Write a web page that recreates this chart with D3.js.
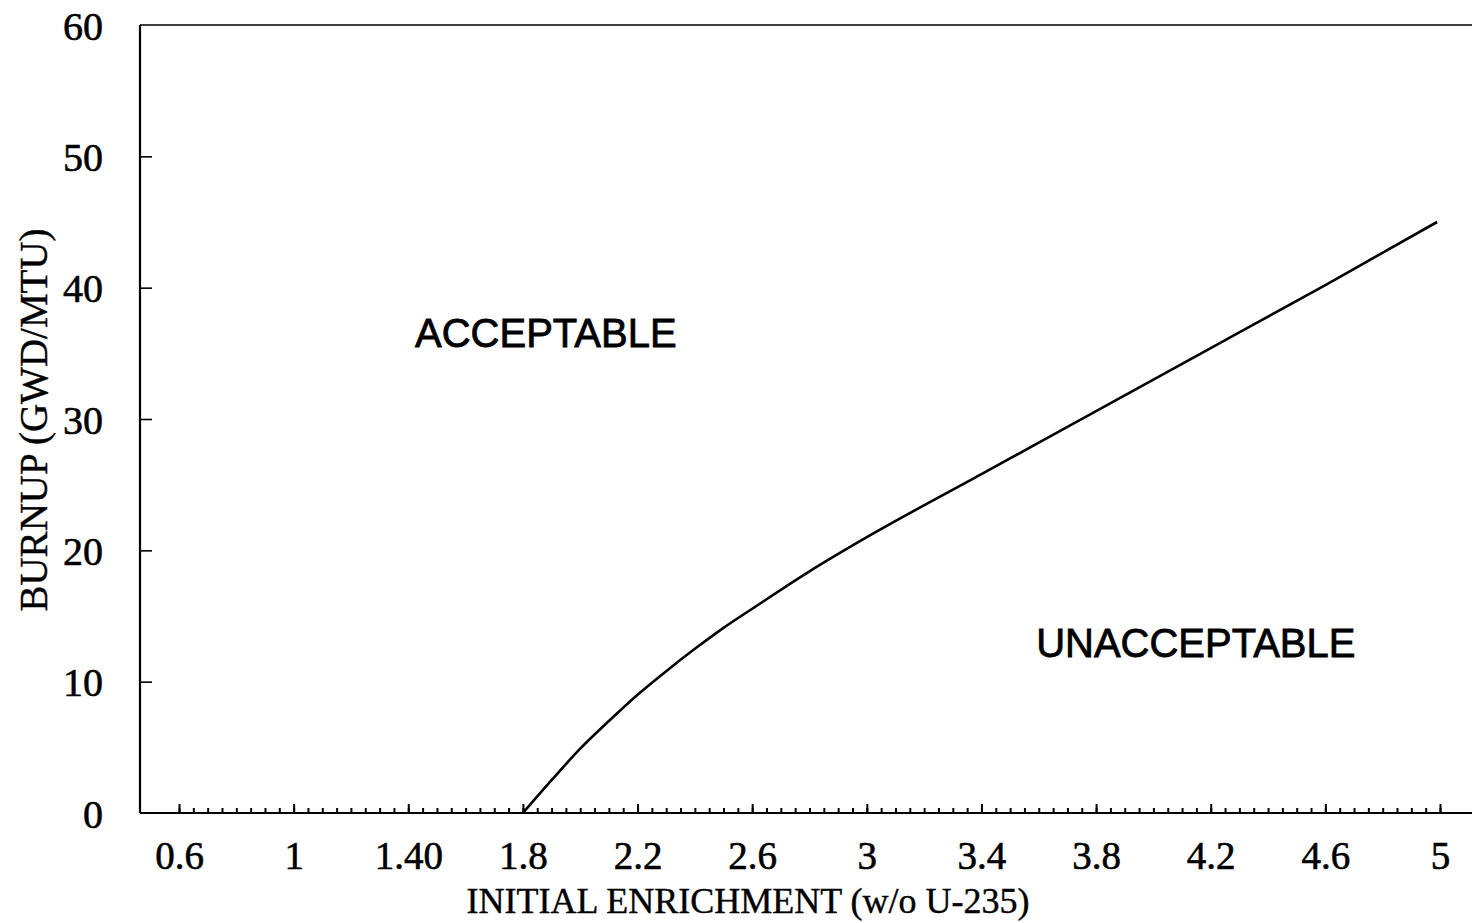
<!DOCTYPE html>
<html>
<head>
<meta charset="utf-8">
<script src="https://cdn.jsdelivr.net/npm/d3@7"></script>
<style>
  html, body { margin: 0; padding: 0; background: #fff; }
  svg { display: block; }
</style>
</head>
<body>
<svg id="chart" width="1472" height="923"></svg>
<script>
// ---- data ----
const enrichment = [1.8, 1.9, 2.0, 2.1, 2.2, 2.3, 2.4, 2.5, 2.6, 2.8, 3.0, 3.4, 3.8, 4.2, 4.6, 4.99];
const burnup     = [0, 2.5, 4.9, 7.0, 9.0, 10.8, 12.5, 14.1, 15.55, 18.4, 21.0, 25.8, 30.6, 35.4, 40.2, 45.0];
const xTickLabels = ["0.6", "1", "1.40", "1.8", "2.2", "2.6", "3", "3.4", "3.8", "4.2", "4.6", "5"];
const xTickValues = [0.6, 1.0, 1.4, 1.8, 2.2, 2.6, 3.0, 3.4, 3.8, 4.2, 4.6, 5.0];
const yTickValues = [0, 10, 20, 30, 40, 50, 60];
const regionLabels = ["ACCEPTABLE", "UNACCEPTABLE"];
const regionPos = [[1.88, 35.5], [4.148, 11.9]]; // data coords: label center x, baseline y

const svg = d3.select("#chart");
const x = d3.scaleLinear().domain([0.6, 5.0]).range([179, 1440]);
const y = d3.scaleLinear().domain([0, 60]).range([813, 25]);
const xMin = x.invert(140), xMax = x.invert(1480);

const serif = "'Liberation Serif', 'Times New Roman', serif";
const sans = "'Liberation Sans', Arial, sans-serif";

// frame: left axis line, top line, bottom line
svg.append("line").attr("x1", x(xMin)).attr("x2", x(xMin)).attr("y1", y(60)).attr("y2", y(0))
  .attr("stroke", "#000").attr("stroke-width", 2.2);
svg.append("line").attr("x1", x(xMin)).attr("x2", x(xMax)).attr("y1", y(60)).attr("y2", y(60))
  .attr("stroke", "#000").attr("stroke-width", 1.5);
svg.append("line").attr("x1", x(xMin)).attr("x2", x(xMax)).attr("y1", y(0)).attr("y2", y(0))
  .attr("stroke", "#000").attr("stroke-width", 1.8);

// minor x ticks
const minor = d3.range(0, 89).map(i => +(0.6 + i * 0.05).toFixed(2));
const gMinor = svg.append("g").attr("transform", `translate(0,${y(0)})`)
  .call(d3.axisBottom(x).tickValues(minor).tickSize(-5).tickFormat(""));
gMinor.select(".domain").remove();
gMinor.selectAll("line").attr("stroke", "#000").attr("stroke-width", 2);

// major x ticks + labels
const gx = svg.append("g").attr("transform", `translate(0,${y(0)})`)
  .call(d3.axisBottom(x).tickValues(xTickValues).tickSize(-9).tickPadding(0)
    .tickFormat((d, i) => xTickLabels[i]));
gx.select(".domain").remove();
gx.selectAll("line").attr("stroke", "#000").attr("stroke-width", 2);
gx.selectAll("text").attr("dy", null).attr("y", 56)
  .attr("font-family", serif).attr("font-size", 39).attr("fill", "#000")
  .attr("stroke", "#000").attr("stroke-width", 0.6);

// y ticks + labels
const gy = svg.append("g").attr("transform", `translate(${x(xMin)},0)`)
  .call(d3.axisLeft(y).tickValues(yTickValues).tickSize(-12).tickPadding(37));
gy.select(".domain").remove();
gy.selectAll("line").attr("stroke", "#000").attr("stroke-width", 1.6)
  .attr("stroke-opacity", d => (d === 0 || d === 60) ? 0 : 1);
gy.selectAll("text").attr("dy", "0.35em")
  .attr("font-family", serif).attr("font-size", 40).attr("fill", "#000")
  .attr("stroke", "#000").attr("stroke-width", 0.6);

// curve
const line = d3.line().x(d => x(d[0])).y(d => y(d[1])).curve(d3.curveMonotoneX);
svg.append("path").datum(enrichment.map((e, i) => [e, burnup[i]]))
  .attr("d", line).attr("fill", "none").attr("stroke", "#000").attr("stroke-width", 2.6);

// region labels
svg.selectAll("text.region").data(regionLabels).enter().append("text")
  .attr("class", "region")
  .attr("x", (d, i) => x(regionPos[i][0])).attr("y", (d, i) => y(regionPos[i][1]))
  .attr("text-anchor", "middle")
  .attr("font-family", sans).attr("font-size", 40).attr("fill", "#000")
  .attr("stroke", "#000").attr("stroke-width", 0.8)
  .text(d => d);

// axis titles
svg.append("text").attr("x", 748).attr("y", 913).attr("text-anchor", "middle")
  .attr("font-family", serif).attr("font-size", 36).attr("fill", "#000")
  .attr("stroke", "#000").attr("stroke-width", 0.4)
  .text("INITIAL ENRICHMENT (w/o U-235)");
svg.append("text").attr("transform", "translate(47,420) rotate(-90)").attr("text-anchor", "middle")
  .attr("font-family", serif).attr("font-size", 39).attr("fill", "#000")
  .attr("stroke", "#000").attr("stroke-width", 0.4)
  .text("BURNUP (GWD/MTU)");
</script>
</body>
</html>
